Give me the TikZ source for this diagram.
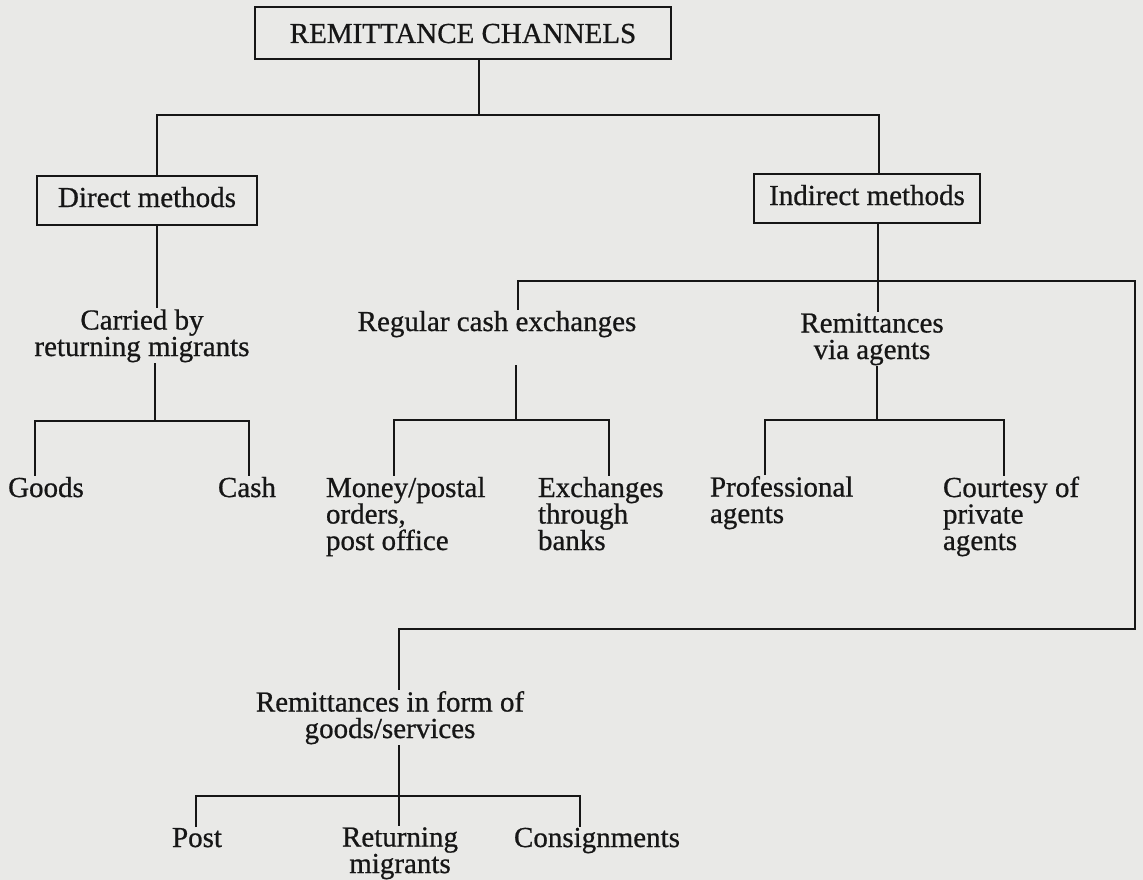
\documentclass[tikz,border=0pt]{standalone}
\usepackage{fontspec}
\setmainfont{Liberation Serif}
\newfontfamily\inkfont{Liberation Serif}[FakeBold=0.7]
\usepackage{tikz}
\definecolor{paper}{RGB}{233,233,231}
\definecolor{ink}{RGB}{22,22,22}

\begin{document}
\begin{tikzpicture}[x=1pt,y=-1pt,line width=2pt,draw=ink,
  box/.style={draw,minimum height=49pt,text height=20pt,text depth=6pt},
  lbl/.style={anchor=base,align=center},
  lft/.style={anchor=base west,align=left}]
\tikzstyle{every node}+=[inner sep=0pt,text=ink,font=\inkfont\fontsize{29}{26.5}\selectfont]
\fill [paper] (0,0) rectangle (1143,880);
\useasboundingbox (0,0) rectangle (1143,880);
% boxes
\node [box,minimum width=416pt,minimum height=52pt,text depth=0pt] (root) at (463,33) {REMITTANCE CHANNELS};
\node [box,minimum width=220pt] (direct) at (147,200) {Direct methods};
\node [box,minimum width=226pt] (indirect) at (867,198) {Indirect methods};
% direct side (base = last line)
\node [lbl] (carried) at (142,356) {Carried by\\returning migrants};
\node [lbl] (goods) at (46,497) {Goods};
\node [lbl] (cash) at (247,497) {Cash};
% indirect side
\node [lbl] (regular) at (497,331) {Regular cash exchanges};
\node [lbl] (agents) at (872,359) {Remittances\\via agents};
\node [lft] (money) at (325,550) {Money/postal\\orders,\\post office};
\node [lft] (banks) at (537,550) {Exchanges\\through\\banks};
\node [lft] (prof) at (709,523) {Professional\\agents};
\node [lft] (courtesy) at (942,550) {Courtesy of\\private\\agents};
\node [lbl] (kind) at (390,738) {Remittances in form of\\goods/services};
\node [lbl] (post) at (197,847) {Post};
\node [lbl] (returning) at (400,873) {Returning\\migrants};
\node [lbl] (consign) at (597,847) {Consignments};
% junctions
\coordinate (b1l) at (157,115);
\coordinate (b1m) at (479,115);
\coordinate (b1r) at (879,115);
\coordinate (b2l) at (35,421);
\coordinate (b2m) at (155,421);
\coordinate (b2r) at (249,421);
\coordinate (b3l) at (518,281);
\coordinate (b3m) at (878,281);
\coordinate (b3r) at (1135,281);
\coordinate (b3c) at (1135,629);
\coordinate (b3b) at (399,629);
\coordinate (b4t) at (516,365);
\coordinate (b4l) at (394,420);
\coordinate (b4m) at (516,420);
\coordinate (b4r) at (609,420);
\coordinate (b5l) at (765,420);
\coordinate (b5m) at (877,420);
\coordinate (b5r) at (1004,420);
\coordinate (b6l) at (196,796);
\coordinate (b6m) at (399,796);
\coordinate (b6r) at (580,796);
% connectors
\draw (root.south -| b1m) -- (b1m);
\draw (direct.north -| b1l) -- (b1l) -- (b1r) -- (indirect.north -| b1r);
\draw (direct.south -| b1l) -- (carried.north -| b1l);
\draw (carried.south -| b2m) -- (b2m);
\draw (goods.north -| b2l) -- (b2l) -- (b2r) -- (cash.north -| b2r);
\draw (indirect.south -| b3m) -- (b3m);
\draw (regular.north -| b3l) -- (b3l) -- (b3r) -- (b3c) -- (b3b) -- (kind.north -| b3b);
\draw (b3m) -- (agents.north -| b3m);
\draw (b4t) -- (b4m);
\draw (money.north -| b4l) -- (b4l) -- (b4r) -- (banks.north -| b4r);
\draw (agents.south -| b5m) -- (b5m);
\draw (prof.north -| b5l) -- (b5l) -- (b5r) -- (courtesy.north -| b5r);
\draw (kind.south -| b6m) -- (b6m);
\draw (post.north -| b6l) -- (b6l) -- (b6r) -- (consign.north -| b6r);
\draw (b6m) -- (returning.north -| b6m);
\end{tikzpicture}
\end{document}
